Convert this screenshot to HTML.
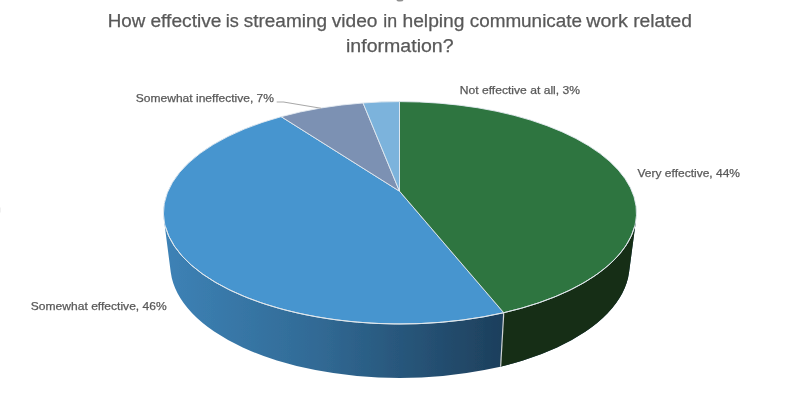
<!DOCTYPE html>
<html><head><meta charset="utf-8"><title>chart</title>
<style>
html,body{margin:0;padding:0;background:#fff;}
body{width:800px;height:418px;overflow:hidden;font-family:"Liberation Sans",sans-serif;}
svg{display:block}
text{font-family:"Liberation Sans",sans-serif;fill:#595959;stroke:#595959;stroke-width:0.25px}
</style></head><body>
<svg width="800" height="418" viewBox="0 0 800 418">
<defs>
<linearGradient id="gb" gradientUnits="userSpaceOnUse" x1="164" y1="0" x2="503" y2="0">
<stop offset="0" stop-color="#3d82b6"/>
<stop offset="0.45" stop-color="#316a95"/>
<stop offset="1" stop-color="#1d3f5c"/>
</linearGradient>
<filter id="soft" x="-5%" y="-5%" width="110%" height="110%"><feGaussianBlur stdDeviation="0.45"/></filter>
<clipPath id="sideclip"><path d="M163.94 219.55 L170.76 272.35 A229.6 112.8 0 0 0 629.04 272.35 L636.06 219.55 Z"/></clipPath>
</defs>
<rect width="800" height="418" fill="#fff"/>
<!-- stray marks from cropped source -->
<ellipse cx="400" cy="-0.3" rx="3.5" ry="1.9" fill="#8f8f8f"/>
<rect x="0" y="207.5" width="1" height="5" fill="#f1f1f1"/>
<g filter="url(#soft)">
<!-- side wall -->
<path d="M163.94 219.55 L170.76 272.35 A229.6 112.8 0 0 0 629.04 272.35 L636.06 219.55 Z" fill="url(#gb)"/>
<g clip-path="url(#sideclip)">
<polygon points="510.42,200 700,200 700,418 497.52,418" fill="#132d19"/>
<line x1="503.75" y1="312.73" x2="500.60" y2="367.00" stroke="#d2d5d6" stroke-width="1.2"/>
</g>
<!-- top face -->
<g stroke="#e3eaf1" stroke-width="0.9" stroke-linejoin="round">
<path d="M399.50 191.20 L503.75 312.73 A236.5 111.2 0 0 1 281.15 116.66 Z" fill="#4795cf"/>
<path d="M399.50 191.20 L399.50 101.60 A236.5 111.2 0 0 1 503.75 312.73 Z" fill="#2e7540"/>
<path d="M399.50 191.20 L281.15 116.66 A236.5 111.2 0 0 1 363.06 102.96 Z" fill="#7c91b3"/>
<path d="M399.50 191.20 L363.06 102.96 A236.5 111.2 0 0 1 399.50 101.60 Z" fill="#7bb3dc"/>
</g>
<path d="M634.56 227.00 A236.5 111.2 0 0 1 165.44 227.00" fill="none" stroke="#e2e8ec" stroke-width="1.0"/>
<!-- leader -->
<polyline points="276.7,102 283.5,102 321,108.3" fill="none" stroke="#a9a9a9" stroke-width="1.1"/>
<!-- text -->
<text x="107.70" y="27.2" font-size="18" textLength="37.60" lengthAdjust="spacingAndGlyphs">How</text>
<text x="150.45" y="27.2" font-size="18" textLength="71.10" lengthAdjust="spacingAndGlyphs">effective</text>
<text x="225.70" y="27.2" font-size="18" textLength="13.10" lengthAdjust="spacingAndGlyphs">is</text>
<text x="243.70" y="27.2" font-size="18" textLength="83.35" lengthAdjust="spacingAndGlyphs">streaming</text>
<text x="331.70" y="27.2" font-size="18" textLength="45.85" lengthAdjust="spacingAndGlyphs">video</text>
<text x="383.20" y="27.2" font-size="18" textLength="13.85" lengthAdjust="spacingAndGlyphs">in</text>
<text x="402.45" y="27.2" font-size="18" textLength="62.10" lengthAdjust="spacingAndGlyphs">helping</text>
<text x="469.70" y="27.2" font-size="18" textLength="112.35" lengthAdjust="spacingAndGlyphs">communicate</text>
<text x="586.20" y="27.2" font-size="18" textLength="41.60" lengthAdjust="spacingAndGlyphs">work</text>
<text x="633.20" y="27.2" font-size="18" textLength="58.85" lengthAdjust="spacingAndGlyphs">related</text>
<text x="346" y="51.6" font-size="18" textLength="107.6" lengthAdjust="spacingAndGlyphs">information?</text>
<text x="135.8" y="102" font-size="11.3" textLength="138.2" lengthAdjust="spacingAndGlyphs">Somewhat ineffective, 7%</text>
<text x="459.8" y="93.7" font-size="11.3" textLength="120.2" lengthAdjust="spacingAndGlyphs">Not effective at all, 3%</text>
<text x="637.5" y="176.5" font-size="11.3" textLength="102.5" lengthAdjust="spacingAndGlyphs">Very effective, 44%</text>
<text x="30.8" y="309.75" font-size="11.3" textLength="135.9" lengthAdjust="spacingAndGlyphs">Somewhat effective, 46%</text>
</g>
</svg>
</body></html>
